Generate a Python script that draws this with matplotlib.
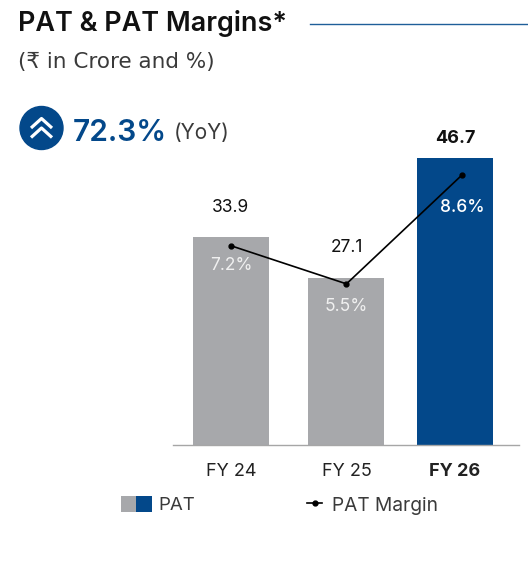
import matplotlib
matplotlib.use('Agg')
import matplotlib.pyplot as plt
from matplotlib.patches import Circle, Rectangle

plt.rcParams['font.family'] = ['Inter', 'DejaVu Sans']

years = ['FY 24', 'FY 25', 'FY 26']
pat = [33.9, 27.1, 46.7]
pat_labels = ['33.9', '27.1', '46.7']
margin_labels = ['7.2%', '5.5%', '8.6%']
# line is not to scale in the original, heights read off against the bar axis
margin_line = [32.4, 26.2, 43.9]
bar_x = [0, 1, 1.94]
line_x = [0, 1, 2]

BLUE = '#03488a'
GREY = '#a7a8ab'
W, H = 528, 583

fig = plt.figure(figsize=(W / 100, H / 100), dpi=100)

# full figure layer in pixel coords for the header and legend
bg = fig.add_axes([0, 0, 1, 1])
bg.set_xlim(0, W)
bg.set_ylim(H, 0)
bg.axis('off')

bg.text(18, 23.5, 'PAT & PAT Margins*', fontsize=19.4, fontweight='semibold', color='#111111', va='center')
bg.plot([310, 528], [24, 24], color='#1f5f99', lw=1)
bg.text(18, 62, '(₹ in Crore and %)', fontsize=15.5, color='#3a3a3a', va='center', family='DejaVu Sans')

bg.add_patch(Circle((41.5, 128), 21.5, color=BLUE))
for dy in [0, 9.5]:
    bg.plot([31, 41.5, 52], [128 + dy, 118.5 + dy, 128 + dy], color='white', lw=2.3, solid_capstyle='butt')
bg.text(73, 133, '72.3%', fontsize=21.5, fontweight='semibold', color=BLUE, va='center')
bg.text(174, 133, '(YoY)', fontsize=15, color='#3a3a3a', va='center')

# legend
bg.add_patch(Rectangle((121, 496), 15, 16, color=GREY, lw=0))
bg.add_patch(Rectangle((136, 496), 16, 16, color=BLUE, lw=0))
bg.text(158, 506, 'PAT', fontsize=13.5, color='#3a3a3a', va='center')
bg.plot([307, 322], [503, 503], color='black', lw=1.2)
bg.plot([314.5], [503], 'o', color='black', ms=3.5)
bg.text(332, 506, 'PAT Margin', fontsize=13.8, color='#3a3a3a', va='center')

ax = fig.add_axes([173 / W, (H - 445) / H, 346 / W, 345 / H])
ax.patch.set_alpha(0)
ax.set_xlim(-0.502, 2.494)
ax.set_ylim(0, 56.1)

colors = [GREY, GREY, BLUE]
ax.bar(bar_x, pat, width=0.658, color=colors)
ax.plot(line_x, margin_line, '-o', color='black', lw=1.2, ms=3.5, zorder=3)

pat_offsets = [29, 31, 19]
for x, v, lab, off, c in zip(bar_x, pat, pat_labels, pat_offsets, colors):
    ax.annotate(lab, (x, v), xytext=(0, off * 0.72), textcoords='offset points', ha='center', va='center',
                fontsize=13 if c == BLUE else 12.5, color='#111111', fontweight='bold' if c == BLUE else 'normal')

margin_offsets = [-20, -23, -32]
margin_colors = ['#f0f0f0', '#f0f0f0', 'white']
for x, v, lab, off, c in zip(line_x, margin_line, margin_labels, margin_offsets, margin_colors):
    ax.annotate(lab, (x, v), xytext=(0, off * 0.72), textcoords='offset points', ha='center', va='center',
                fontsize=12.5, color=c, fontweight='medium' if lab == '8.6%' else 'normal')

ax.set_xticks(bar_x, years, fontsize=13, color='#222222')
ax.get_xticklabels()[2].set_fontweight('bold')
ax.tick_params(axis='x', length=0, pad=13)
ax.set_yticks([])
for side in ['top', 'left', 'right']:
    ax.spines[side].set_visible(False)
ax.spines['bottom'].set_color('#a6a6a6')
ax.spines['bottom'].set_linewidth(1)

fig.savefig('out.png', dpi=100)
